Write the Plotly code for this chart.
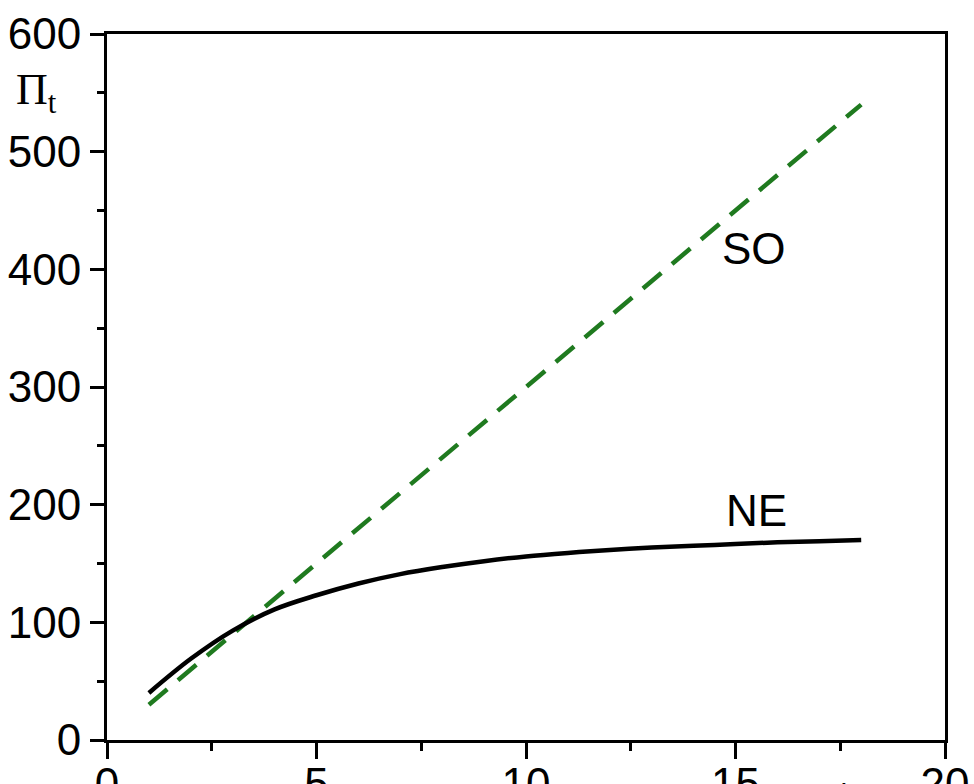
import plotly.graph_objects as go

t_vals = [1, 2, 3, 4, 5, 6, 7, 8, 9, 10, 11, 12, 13, 14, 15, 16, 17, 18]
ne_vals = [40, 69, 93, 111, 123, 133, 141, 147, 152, 156, 159, 161.5, 163.5, 165, 166.5, 168, 169, 170]
so_t = [1, 18]
so_vals = [30, 540]

x_ticks = [0, 5, 10, 15, 20]
y_ticks = [0, 100, 200, 300, 400, 500, 600]

FONT = "Liberation Sans, Arial, sans-serif"

fig = go.Figure()
fig.add_trace(go.Scatter(x=so_t, y=so_vals, mode="lines",
                         line=dict(color="#1f7a1f", width=4.5, dash="24px,14px"),
                         showlegend=False))
fig.add_trace(go.Scatter(x=t_vals, y=ne_vals, mode="lines", line_shape="spline",
                         line=dict(color="black", width=4.5), showlegend=False))

fig.add_annotation(x=15.45, y=418, text="SO", showarrow=False,
                   font=dict(family=FONT, size=44, color="black"))
fig.add_annotation(x=15.5, y=195, text="NE", showarrow=False,
                   font=dict(family=FONT, size=44, color="black"))
fig.add_annotation(xref="paper", yref="paper", x=(14 - 107) / 838, y=(740 - 92) / 706,
                   xanchor="left", yanchor="middle", text="Π<sub>t</sub>", showarrow=False,
                   font=dict(family="Liberation Serif, Times New Roman, serif", size=44, color="black"))
fig.add_annotation(xref="x", yref="paper", x=17.6, y=-0.042, yanchor="top",
                   text="t", showarrow=False,
                   font=dict(family=FONT, size=44, color="black"))

fig.update_xaxes(range=[0, 20], tickvals=x_ticks, ticktext=[str(v) for v in x_ticks],
                 showline=True, linewidth=3, linecolor="black", mirror=True,
                 ticks="outside", ticklen=16, tickwidth=3, tickcolor="black",
                 ticklabelstandoff=-13,
                 minor=dict(tickvals=[2.5, 7.5, 12.5, 17.5], ticks="outside", ticklen=8,
                            tickwidth=3, tickcolor="black"),
                 showgrid=False, zeroline=False, automargin=False,
                 tickfont=dict(family=FONT, size=44, color="black"))
fig.update_yaxes(range=[0, 600], tickvals=y_ticks, ticktext=[str(v) for v in y_ticks],
                 showline=True, linewidth=3, linecolor="black", mirror=True,
                 ticks="outside", ticklen=14, tickwidth=3, tickcolor="black",
                 minor=dict(tickvals=[50, 150, 250, 350, 450, 550], ticks="outside", ticklen=7,
                            tickwidth=3, tickcolor="black"),
                 showgrid=False, zeroline=False, automargin=False,
                 tickfont=dict(family=FONT, size=44, color="black"))

fig.update_layout(width=974, height=784, margin=dict(l=107, r=29, t=34, b=44),
                  paper_bgcolor="white", plot_bgcolor="white")

fig.write_html("out.html")
